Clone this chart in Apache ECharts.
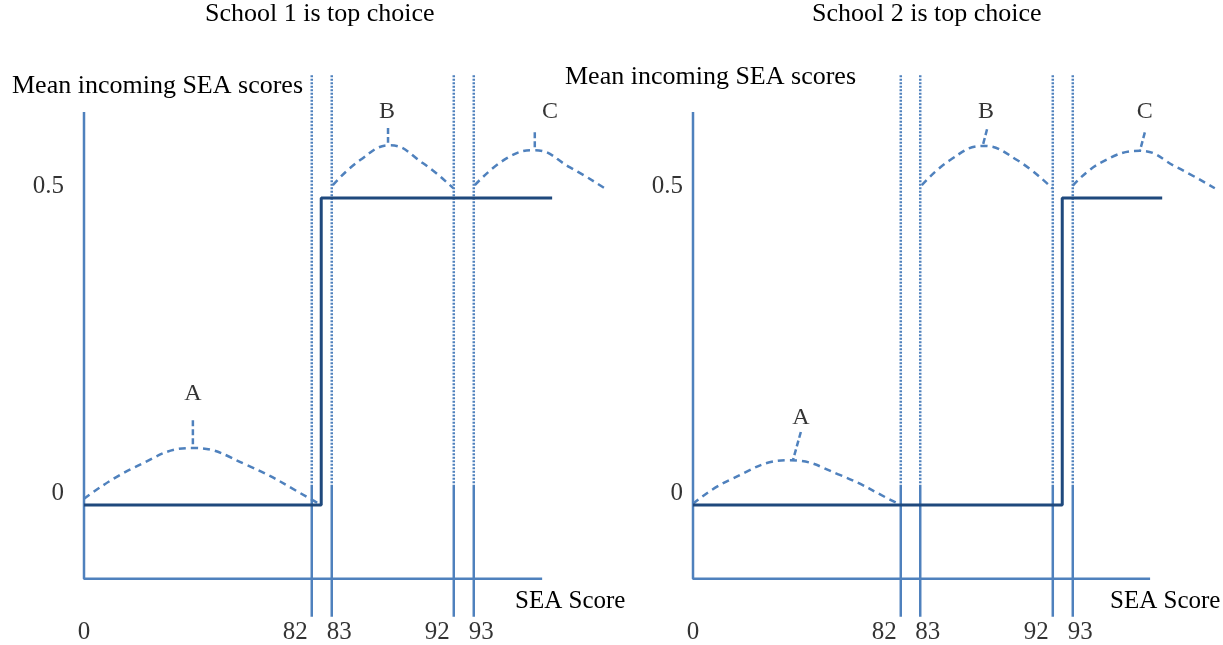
<!DOCTYPE html>
<html>
<head>
<meta charset="utf-8">
<script src="https://cdn.jsdelivr.net/npm/echarts@6/dist/echarts.min.js"></script>
<style>
  html, body { margin: 0; padding: 0; background: #fff; }
  #chart { width: 1223px; height: 645px; }
</style>
</head>
<body>
<div id="chart"></div>
<script>
// ---------- data (schematic coordinates: x in diagram units 0-100, y in score units) ----------
const panelTitles = ['School 1 is top choice', 'School 2 is top choice'];
const yAxisName = 'Mean incoming SEA scores';
const xAxisName = 'SEA Score';
const xTickLabels = ['0', '82', '83', '92', '93'];
const yTickLabels = ['0', '0.5'];
const yTickValues = [0, 0.5];
const groupLetters = ['A', 'B', 'C'];

// where each SEA score tick sits on the schematic axis
const school1TickAt = [0, 43.3, 47.1, 70.3, 74.1];
const school2TickAt = [0, 39.5, 43.2, 68.4, 72.2];

// axis extents
const axisTop = 0.64;
const axisBottom = -0.12;
const school1AxisEnd = 87.1;
const school2AxisEnd = 86.9;
const cutoffTop = 0.70;
const cutoffSplit = 0.033;
const cutoffBottom = -0.182;
const tickLabelY = -0.207;

// mean incoming score step function
const school1Step = [[0, 0], [45.1, 0], [45.1, 0.5], [89.0, 0.5]];
const school2Step = [[0, 0], [70.2, 0], [70.2, 0.5], [89.2, 0.5]];

// distributions of applicants (dashed arcs)
const school1CurveA = [[0, 0.01], [9.3, 0.06], [20.7, 0.093], [31.0, 0.065], [43.5, 0.008], [44.9, 0]];
const school1CurveB = [[47.3, 0.521], [52.5, 0.562], [58.2, 0.586], [64.4, 0.557], [70.2, 0.516]];
const school1CurveC = [[74.3, 0.521], [80.4, 0.565], [85.7, 0.578], [92.4, 0.55], [99.0, 0.516]];
const school2CurveA = [[0, 0.002], [7.0, 0.041], [18.4, 0.073], [27.9, 0.049], [38.8, 0.003], [39.5, 0]];
const school2CurveB = [[43.5, 0.521], [48.9, 0.562], [55.1, 0.585], [61.6, 0.562], [68.3, 0.516]];
const school2CurveC = [[72.2, 0.52], [77.4, 0.557], [85.0, 0.577], [92.0, 0.55], [99.2, 0.516]];

// letter annotations and their leader lines
const school1LetterAt = [[20.7, 0.182], [57.6, 0.64], [88.6, 0.64]];
const school1Leaders = [[[20.7, 0.138], [20.7, 0.094]], [[57.8, 0.614], [57.8, 0.59]], [[85.7, 0.607], [85.7, 0.58]]];
const school2LetterAt = [[20.5, 0.142], [55.7, 0.64], [85.9, 0.64]];
const school2Leaders = [[[20.5, 0.119], [19.0, 0.073]], [[55.9, 0.612], [55.1, 0.586]], [[85.9, 0.607], [85.0, 0.578]]];

// ---------- styles ----------
const BLUE = '#4F81BD';
const NAVY = '#1F497D';
const FONT = '"Liberation Serif", "Times New Roman", serif';

const panels = [
  { tickAt: school1TickAt, axisEnd: school1AxisEnd, step: school1Step,
    curves: [school1CurveA, school1CurveB, school1CurveC],
    letterAt: school1LetterAt, leaders: school1Leaders, yLabelGap: 20 },
  { tickAt: school2TickAt, axisEnd: school2AxisEnd, step: school2Step,
    curves: [school2CurveA, school2CurveB, school2CurveC],
    letterAt: school2LetterAt, leaders: school2Leaders, yLabelGap: 10 }
];

const series = [];
panels.forEach((p, i) => {
  const base = { xAxisIndex: i, yAxisIndex: i, silent: true, animation: false };
  const lineSeries = (data, style, extra) => Object.assign({}, base, {
    type: 'line', data, symbol: 'none', clip: false, lineStyle: style, z: 2
  }, extra || {});

  // axes
  series.push(lineSeries([[0, axisTop], [0, axisBottom], [p.axisEnd, axisBottom]],
    { color: BLUE, width: 2.5 }));

  // cutoff verticals (skip score 0)
  p.tickAt.forEach((x, k) => {
    if (k === 0) return;
    series.push(lineSeries([[x, cutoffTop], [x, cutoffSplit]], { color: BLUE, width: 2.5, type: [2, 1.5] }));
    series.push(lineSeries([[x, cutoffSplit], [x, cutoffBottom]], { color: BLUE, width: 2.5 }));
  });

  // step function
  series.push(lineSeries(p.step, { color: NAVY, width: 3 }, { z: 4 }));

  // dashed distribution arcs
  p.curves.forEach(c => {
    series.push(lineSeries(c, { color: BLUE, width: 2.5, type: [7, 5] }, { smooth: 0.45, z: 3 }));
  });

  // leader lines
  p.leaders.forEach(l => {
    series.push(lineSeries(l, { color: BLUE, width: 2.5, type: [6, 3] }, { z: 3 }));
  });

  // letters
  series.push(Object.assign({}, base, {
    type: 'scatter', symbolSize: 0, clip: false,
    data: p.letterAt.map((v, k) => ({ name: groupLetters[k], value: v })),
    label: { show: true, position: 'inside', formatter: '{b}', color: '#000',
      fontFamily: FONT, fontSize: 24 }
  }));

  // x tick labels
  const aligns = ['center', 'right', 'left', 'right', 'left'];
  const dx = [0, -4, -5, -4, -5];
  series.push(Object.assign({}, base, {
    type: 'scatter', symbolSize: 0, clip: false,
    data: p.tickAt.map((x, k) => ({
      name: xTickLabels[k], value: [x, tickLabelY],
      label: { align: aligns[k], offset: [dx[k], 0] }
    })),
    label: { show: true, position: 'inside', formatter: '{b}', color: '#000',
      fontFamily: FONT, fontSize: 25 }
  }));

  // y tick labels
  series.push(Object.assign({}, base, {
    type: 'scatter', symbolSize: 0, clip: false,
    data: yTickValues.map((y, k) => ({ name: yTickLabels[k], value: [0, y] })),
    label: { show: true, position: 'inside', formatter: '{b}', color: '#000',
      align: 'right', offset: [-p.yLabelGap, -12],
      fontFamily: FONT, fontSize: 25 }
  }));
});

const textStyle = { fill: '#000', font: '26px ' + FONT, textVerticalAlign: 'middle' };
const graphic = [
  { type: 'text', left: 205, top: 1, style: Object.assign({}, textStyle, { text: panelTitles[0] }) },
  { type: 'text', left: 812, top: 1, style: Object.assign({}, textStyle, { text: panelTitles[1] }) },
  { type: 'text', left: 12, top: 73, style: Object.assign({}, textStyle, { text: yAxisName }) },
  { type: 'text', left: 565, top: 64, style: Object.assign({}, textStyle, { text: yAxisName }) },
  { type: 'text', left: 515, top: 589, style: Object.assign({}, textStyle, { text: xAxisName, font: '25px ' + FONT }) },
  { type: 'text', left: 1110, top: 589, style: Object.assign({}, textStyle, { text: xAxisName, font: '25px ' + FONT }) }
];

const option = {
  backgroundColor: '#fff',
  animation: false,
  grid: [
    { left: 84, width: 526, top: 63, height: 564.8 },
    { left: 693, width: 526, top: 63, height: 564.8 }
  ],
  xAxis: [0, 1].map(i => ({ type: 'value', gridIndex: i, min: 0, max: 100, show: false })),
  yAxis: [0, 1].map(i => ({ type: 'value', gridIndex: i, min: -0.2, max: 0.72, show: false })),
  graphic,
  series
};

const chart = echarts.init(document.getElementById('chart'));
chart.setOption(option);
</script>
</body>
</html>
